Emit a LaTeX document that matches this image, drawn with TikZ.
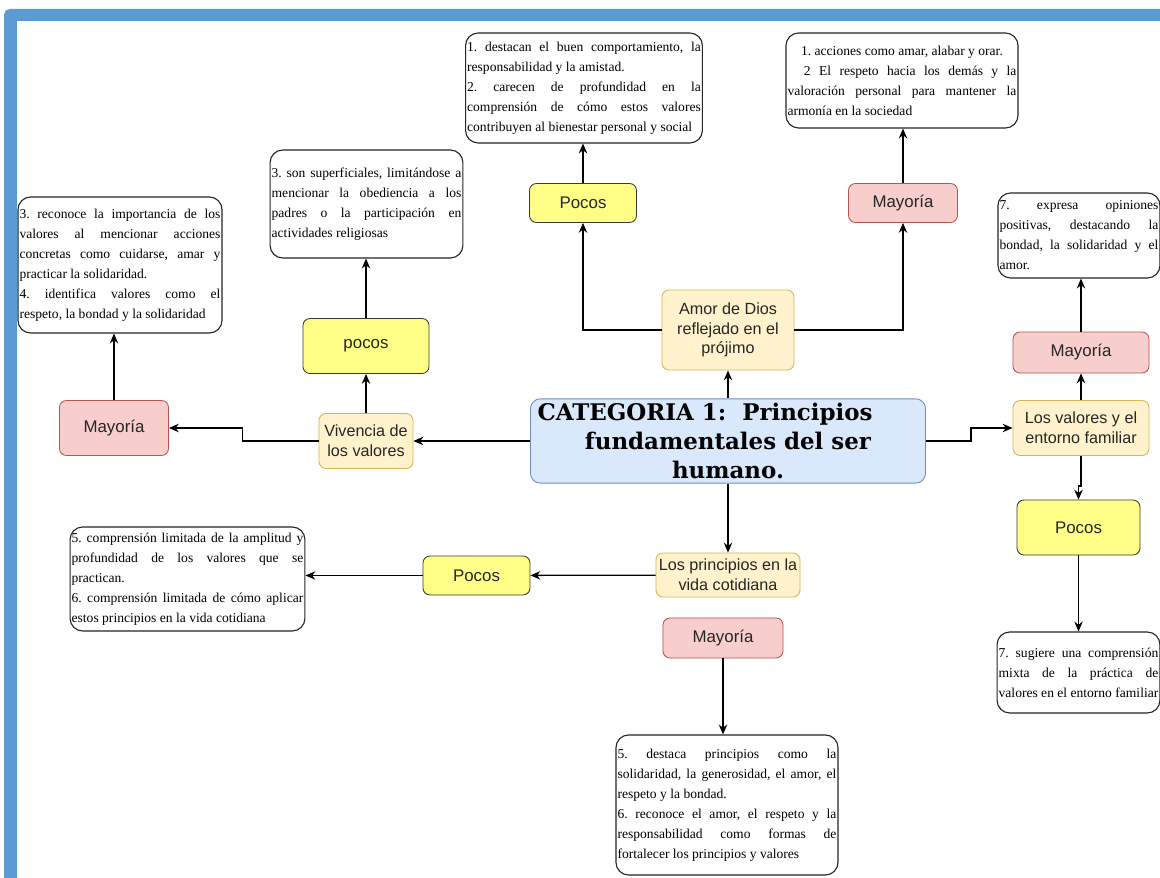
\documentclass[tikz,border=0pt]{standalone}
\usepackage{fontspec}
\setmainfont{Liberation Serif}
\newfontfamily\etiqfont{Liberation Sans}
\newfontfamily\titfont{DejaVu Serif}
\usepackage{tikz}
\usetikzlibrary{arrows.meta}
\definecolor{marco}{HTML}{5B9BD5}
\definecolor{azulf}{HTML}{DAE8FC}
\definecolor{azulb}{HTML}{6C8EBF}
\definecolor{crema}{HTML}{FFF2CC}
\definecolor{cremab}{HTML}{D6B656}
\definecolor{amarillo}{HTML}{FFFF88}
\definecolor{amarillob}{HTML}{36393D}
\definecolor{rosa}{HTML}{F8CECC}
\definecolor{rosab}{HTML}{B85450}
\frenchspacing
\newcommand{\notafont}{\fontsize{9.65}{14.2}\selectfont\parindent0pt\hyphenpenalty10000\exhyphenpenalty10000\tolerance9999\hbadness10000}

\begin{document}
\begin{tikzpicture}[x=0.025cm,y=-0.025cm,
	nota/.style={draw=black!85,line width=0.8pt,rounded corners=9pt,align=justify,text width=#1,inner xsep=0.04cm,inner ysep=2pt,font=\notafont},
	caja/.style={rounded corners=5pt,line width=0.6pt,align=center,inner sep=2pt,text=black!85,font={\etiqfont\fontsize{11.5}{14}\selectfont}},
	crem/.style={caja,fill=crema,draw=cremab},
	amar/.style={caja,fill=amarillo,draw=amarillob,font={\etiqfont\fontsize{12}{14}\selectfont}},
	rosa/.style={caja,fill=rosa,draw=rosab,font={\etiqfont\fontsize{12}{14}\selectfont}},
	flecha/.style={line width=0.9pt,-{Stealth[length=7pt,width=6pt]}}]
	\useasboundingbox (0,0) rectangle (1160,878);
	\clip (0,0) rectangle (1160,878);
	%	\draw[thin,densely dashed] (0,0) grid[step=100] (1160,878);
	\fill[marco,rounded corners=4pt] (4,9) rectangle (1200,900);
	\fill[white] (17,21) rectangle (1200,900);
	
	\node[rounded corners=7pt,fill=azulf,draw=azulb,line width=0.6pt,minimum width=9.875cm,minimum height=2.05cm,align=center,font={\titfont\bfseries\fontsize{16.3}{20.3}\selectfont}] (cat) at (728,441) {CATEGORIA 1:\ \ Principios\hspace*{2em}\\fundamentales del ser\\humano.};
	
	% arriba
	\node[crem,minimum width=3.3cm,minimum height=2cm] (amor) at (728,330) {Amor de Dios\\reflejado en el\\prójimo};
	\node[amar,minimum width=2.675cm,minimum height=0.975cm] (pocA) at (583,203) {Pocos};
	\node[rosa,minimum width=2.725cm,minimum height=0.975cm] (mayA) at (903,203) {Mayoría};
	\node[nota=5.84cm,minimum height=2.75cm] (b1) at (584,88) {1. destacan el buen comportamiento, la\linebreak responsabilidad y la amistad.\par 2. carecen de profundidad en la\linebreak comprensión de cómo estos valores\linebreak contribuyen al bienestar personal y social};
	\node[nota=5.72cm,minimum height=2.375cm] (b2) at (902,80.5) {{\centering 1. acciones como amar, alabar y orar.\par}\hspace*{1.2em}2 El respeto hacia los demás y la\linebreak valoración personal para mantener la\linebreak armonía en la sociedad};
	\draw[flecha] (cat) -- (amor);
	\draw[flecha] (amor.west) -| (pocA.south);
	\draw[flecha] (amor.east) -| (mayA.south);
	\draw[flecha] (pocA.north) -- (pocA.north |- b1.south);
	\draw[flecha] (mayA.north) -- (mayA.north |- b2.south);
	
	% izquierda
	\node[crem,minimum width=2.35cm,minimum height=1.375cm] (viv) at (366,441) {Vivencia de\\los valores};
	\node[amar,minimum width=3.15cm,minimum height=1.375cm] (pocB) at (366,346) {pocos};
	\node[rosa,minimum width=2.725cm,minimum height=1.375cm] (mayB) at (114,428) {Mayoría};
	\node[nota=4.74cm,minimum height=2.7cm] (b3) at (366.5,204) {3. son superficiales, limitándose a\linebreak mencionar la obediencia a los\linebreak padres o la participación en\linebreak actividades religiosas};
	\node[nota=5.02cm,minimum height=3.4cm] (b4) at (120,265) {3. reconoce la importancia de los\linebreak valores al mencionar acciones\linebreak concretas como cuidarse, amar y\linebreak practicar la solidaridad.\par 4. identifica valores como el\linebreak respeto, la bondad y la solidaridad};
	\draw[flecha] (cat) -- (viv);
	\draw[flecha] (viv) -- (pocB);
	\draw[flecha] (pocB.north) -- (pocB.north |- b3.south);
	\draw[flecha] (viv.west) -- ++(-76,0) |- (mayB.east);
	\draw[flecha] (mayB.north) -- (mayB.north |- b4.south);
	
	% derecha
	\node[crem,minimum width=3.4cm,minimum height=1.375cm] (fam) at (1081,428) {Los valores y el\\entorno familiar};
	\node[rosa,minimum width=3.4cm,minimum height=1.025cm] (mayC) at (1081,352.5) {Mayoría};
	\node[amar,minimum width=3.075cm,minimum height=1.375cm] (pocC) at (1078.5,527.5) {Pocos};
	\node[nota=3.97cm,minimum height=2.125cm] (b5) at (1079,235.5) {7. expresa opiniones\linebreak positivas, destacando la\linebreak bondad, la solidaridad y el\linebreak amor.};
	\node[nota=3.99cm,minimum height=2.025cm] (b6) at (1078.5,672.5) {7. sugiere una comprensión\linebreak mixta de la práctica de\linebreak valores en el entorno familiar};
	\draw[flecha] (cat.east) -- ++(45,0) |- (fam.west);
	\draw[flecha] (fam) -- (mayC);
	\draw[flecha] (mayC.north) -- (mayC.north |- b5.south);
	\draw[flecha] (fam.south) -- ++(0,30) -| (pocC.north);
	\draw[flecha] (pocC.south) -- (pocC.south |- b6.north);
	
	% abajo
	\node[crem,minimum width=3.6cm,minimum height=1.1cm] (pri) at (728,575) {Los principios en la\\vida cotidiana};
	\node[amar,minimum width=2.675cm,minimum height=0.975cm] (pocD) at (476.5,575.5) {Pocos};
	\node[rosa,minimum width=3cm,minimum height=1cm] (mayD) at (723,638) {Mayoría};
	\node[nota=5.79cm,minimum height=2.6cm] (b7) at (187.5,579) {5. comprensión limitada de la amplitud y\linebreak profundidad de los valores que se\linebreak practican.\par 6. comprensión limitada de cómo aplicar\linebreak estos principios en la vida cotidiana};
	\node[nota=5.47cm,minimum height=3.5cm] (b8) at (727,805) {5. destaca principios como la\linebreak solidaridad, la generosidad, el amor, el\linebreak respeto y la bondad.\par 6. reconoce el amor, el respeto y la\linebreak responsabilidad como formas de\linebreak fortalecer los principios y valores};
	\draw[flecha] (cat) -- (pri);
	\draw[flecha] (pri) -- (pocD);
	\draw[flecha] (pocD.west) -- (pocD.west -| b7.east);
	\draw[flecha] (mayD.south) -- (mayD.south |- b8.north);
	
\end{tikzpicture}
\end{document}
